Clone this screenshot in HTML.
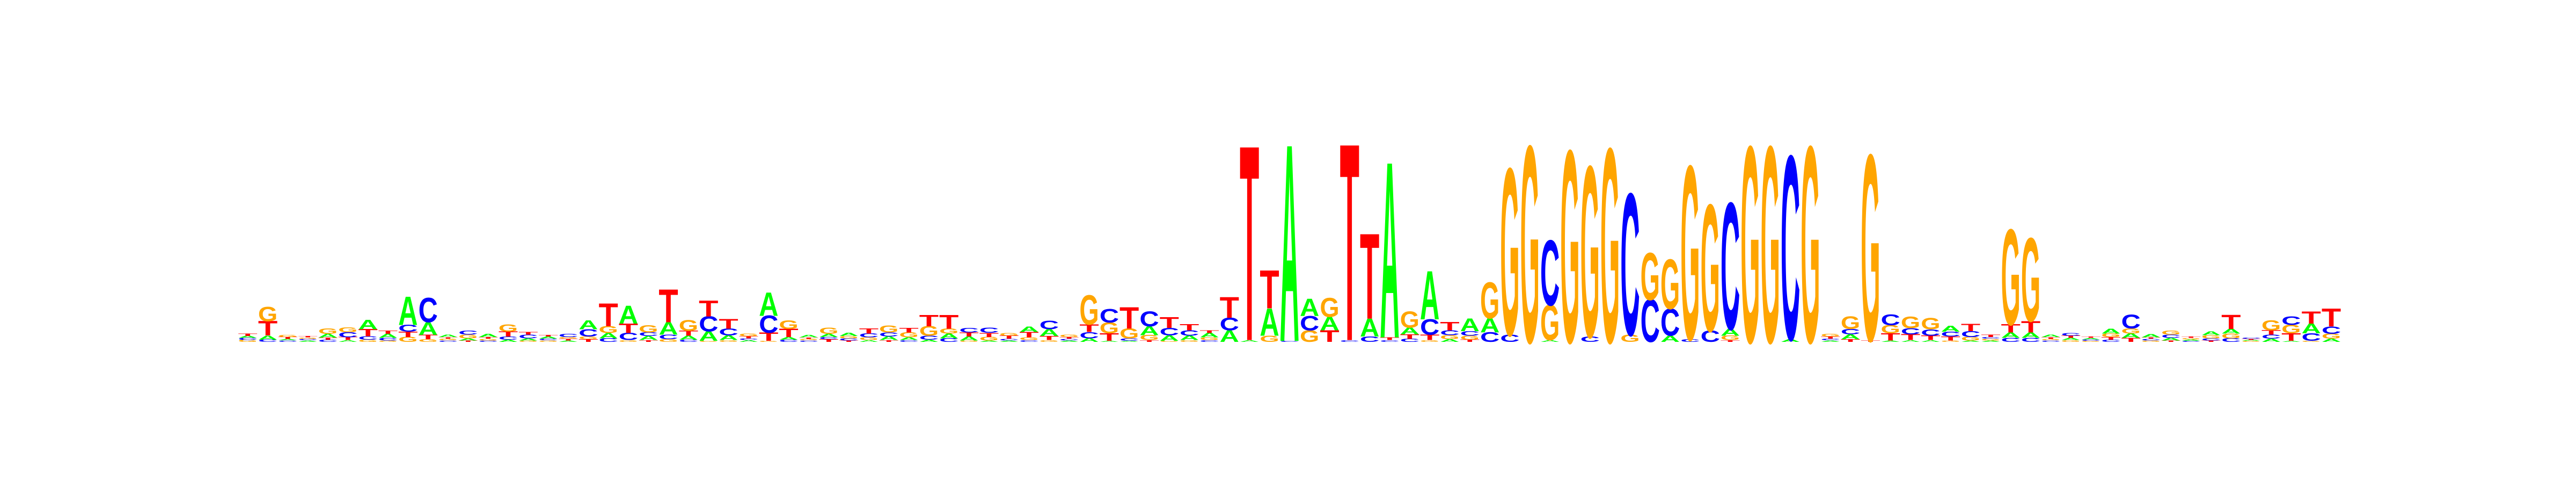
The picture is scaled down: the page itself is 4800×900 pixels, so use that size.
<!DOCTYPE html>
<html><head><meta charset="utf-8"><title>Sequence logo</title>
<style>html,body{margin:0;padding:0;background:#fff;}svg{display:block;}</style></head>
<body>
<svg id="logo" width="4800" height="900" viewBox="0 0 4800 900" xmlns="http://www.w3.org/2000/svg">
<rect x="0" y="0" width="4800" height="900" fill="#ffffff"/>
<g id="cols"></g>
</svg>
<script>
// letter stacks per position, top to bottom, heights in bits
const columns = [
"T.025 A.02 C.02 G.02","G.144 T.144 A.041 C.023","G.02 T.02 A.015 C.015","T.015 G.015 C.015 A.015",
"G.054 A.036 T.022 C.022","G.049 C.05 T.029 A.018","A.094 T.072 C.034 G.022","T.032 A.041 C.027 G.014",
"A.283 C.067 T.054 G.05","C.245 A.126 T.043 G.027","A.023 T.015 G.018 C.015","C.041 G.038 A.022 T.014",
"A.029 T.016 G.018 C.014","G.072 T.05 C.031 A.022","T.027 C.036 A.022 G.014","T.018 A.02 C.018 G.015",
"C.031 G.018 T.018 A.014","A.09 C.072 G.027 T.027","T.227 G.068 A.054 C.036","A.18 T.094 C.072 G.018",
"G.072 C.036 A.041 T.018","T.328 A.126 C.045 G.027","G.108 T.05 A.04 C.022","T.157 C.153 A.095 G.01",
"T.095 C.068 A.047 G.018","G.027 T.022 C.018 A.018","A.234 C.171 T.081 G.01","G.085 T.081 A.027 C.022",
"A.023 T.015 G.015 C.015","G.061 A.031 C.022 T.027","A.032 G.023 C.022 T.014","T.052 C.04 G.027 A.018",
"G.067 C.041 A.036 T.018","T.045 G.05 A.027 C.018","T.112 G.095 C.041 A.022","T.139 G.05 A.047 C.036",
"C.043 T.041 A.04 G.014","C.05 T.041 G.036 A.014","G.027 T.031 C.018 A.014","A.054 T.054 G.027 C.018",
"C.085 A.067 T.041 G.018","G.025 T.018 C.018 A.014","G.292 T.077 C.063 A.036","C.135 G.108 T.076 A.01",
"T.213 G.099 C.025 A.01","C.148 A.09 G.05 T.018","T.105 C.077 A.054 G.01","T.063 C.054 A.045 G.018",
"T.027 A.045 G.027 C.018","T.207 C.126 A.117","T1.94 A.018","T.378 A.274 G.063",
"A1.96 C.01","A.171 C.144 G.117","G.189 A.135 T.117","T1.96 C.018",
"T.85 A.18 C.054","A1.75 T.027 C.018","G.162 A.068 T.045 C.031","A.483 C.155 T.054 G.018",
"T.081 C.049 G.04 A.027","A.126 C.045 G.04 T.023","G.36 A.144 C.095","G1.66 C.072",
"G1.955","C.649 G.351 A.018","G1.91","G1.70 C.054",
"G1.93","C1.41 G.072","G.468 C.423","G.495 C.27 A.063",
"G1.73 C.027","G1.26 C.112","C1.26 A.067 G.045 T.018","G1.95",
"G1.95","C1.83 A.027","G1.95","G.027 T.02 C.018 A.015",
"G.126 C.054 A.049 T.027","G1.85 T.018","C.108 G.081 T.072 A.014","G.117 C.063 T.058 A.018",
"G.113 C.063 T.045 A.018","A.058 C.049 T.041 G.014","T.072 C.058 G.036 A.014","T.023 C.018 G.018 A.014",
"G.95 T.081 A.054 C.04","G.83 T.115 A.054 C.04","A.023 T.018 G.015 C.015","C.027 T.023 A.022 G.018",
"T.015 A.015 C.015 G.01","A.049 G.036 T.027 C.022","C.139 G.05 A.045 T.04","A.031 T.014 C.018 G.014",
"G.041 C.032 A.027 T.014","T.015 G.015 A.015 C.01","A.036 G.031 C.022 T.014","T.14 A.047 G.047 C.036",
"C.015 T.01 A.01 G.01","G.099 T.045 C.04 A.032","C.086 G.085 T.076 A.01","T.121 A.099 C.076 G.01",
"T.18 C.072 G.05 A.032"
];
const letterColors = {A:"#00ff00",C:"#0000ff",G:"#ffa500",T:"#ff0000"};

const X0 = 443, COLW = 37.33, BASE = 637, BITPX = 185, CAP = 68.8;
function xScale(i){ return X0 + i*COLW; }
function yScale(bits){ return bits*BITPX; }

const NS = "http://www.w3.org/2000/svg";
const g = document.getElementById('cols');
columns.forEach((col, i) => {
  const cg = document.createElementNS(NS, 'g');
  
  
  const stack = col.split(' ').map(s => ({l: s[0], h: parseFloat(s.slice(1))}));
  let y = BASE;
  for (let k = stack.length - 1; k >= 0; k--) {
    const h = yScale(stack[k].h);
    if (h <= 0) continue;
    const t = document.createElementNS(NS, 'text');
    
    
    t.textContent = stack[k].l;
    t.setAttribute('x', 0);
    t.setAttribute('y', 0);
    t.setAttribute('font-family', 'Liberation Sans, sans-serif');
    t.setAttribute('font-weight', 'bold');
    t.setAttribute('font-size', '100');
    t.setAttribute('textLength', (COLW - 1).toFixed(2));
    t.setAttribute('lengthAdjust', 'spacingAndGlyphs');
    t.setAttribute('fill', letterColors[stack[k].l]);
    t.setAttribute('transform', 'translate(' + (xScale(i) + 0.5).toFixed(2) + ',' + y.toFixed(2) + ') scale(1,' + (h / CAP).toFixed(5) + ')');
    cg.appendChild(t);
    y -= h;
  }
  g.appendChild(cg);
});
</script>
</body></html>
